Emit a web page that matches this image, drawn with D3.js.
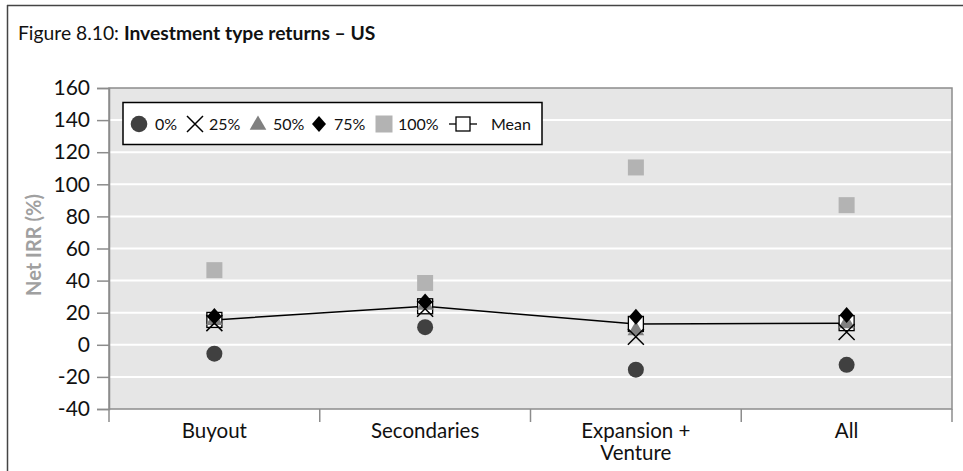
<!DOCTYPE html>
<html>
<head>
<meta charset="utf-8">
<script src="https://cdn.jsdelivr.net/npm/d3@7"></script>
<style>
  html, body { margin: 0; padding: 0; background: #fff; }
  svg { display: block; }
  text { font-family: Lato, "Open Sans", sans-serif; }
</style>
</head>
<body>
<svg id="chart" width="963" height="471"></svg>
<script>
// ---- data ----
const categories = ["Buyout", "Secondaries", "Expansion + Venture", "All"];
const categoryLabels = [["Buyout"], ["Secondaries"], ["Expansion +", "Venture"], ["All"]];
const p0   = [-5.5, 11, -15.5, -12.5];
const p25  = [13.5, 22.5, 5, 8];
const p50  = [16, 25.5, 9.5, 14];
const p75  = [18, 27, 17.5, 18.5];
const p100 = [46.5, 38.5, 110.5, 87];
const meanVals = [15.5, 24, 13, 13.5];
const yTicks = [-40, -20, 0, 20, 40, 60, 80, 100, 120, 140, 160];
const legendLabels = ["0%", "25%", "50%", "75%", "100%", "Mean"];

(function () {
const FONT = "Lato, 'Open Sans', sans-serif";
const svg = d3.select("#chart");
const pLeft = 109, pRight = 952, pTop = 88, pBottom = 409;

const x = d3.scaleBand().domain(categories).range([pLeft, pRight]).padding(0);
const y = d3.scaleLinear().domain([-40, 160]).range([pBottom, pTop]);
const cx = c => x(c) + x.bandwidth() / 2;

// outer frame (top & left)
svg.append("line").attr("x1", 7).attr("x2", 963).attr("y1", 5.5).attr("y2", 5.5)
  .attr("stroke", "#444").attr("stroke-width", 1.5);
svg.append("line").attr("x1", 7.5).attr("x2", 7.5).attr("y1", 5).attr("y2", 471)
  .attr("stroke", "#444").attr("stroke-width", 1.5);

// title
const title = svg.append("text").attr("x", 18).attr("y", 40)
  .attr("font-size", 19.3).attr("fill", "#111");
title.append("tspan").text("Figure 8.10: ");
title.append("tspan").attr("font-weight", "bold").text("Investment type returns \u2013 US");

// plot background
svg.append("rect").attr("x", pLeft).attr("y", pTop)
  .attr("width", pRight - pLeft).attr("height", pBottom - pTop)
  .attr("fill", "#e6e6e6");

// gridlines
svg.append("g").selectAll("line")
  .data(yTicks.filter(t => t > -40 && t < 160))
  .join("line")
  .attr("x1", pLeft).attr("x2", pRight)
  .attr("y1", d => y(d)).attr("y2", d => y(d))
  .attr("stroke", "#fff").attr("stroke-width", 2);

// plot border
svg.append("rect").attr("x", pLeft).attr("y", pTop)
  .attr("width", pRight - pLeft).attr("height", pBottom - pTop)
  .attr("fill", "none").attr("stroke", "#8c8c8c").attr("stroke-width", 1.5);

// y axis
const yAxis = svg.append("g").attr("transform", `translate(${pLeft},0)`)
  .call(d3.axisLeft(y).tickValues(yTicks).tickSize(12).tickPadding(7).tickFormat(d => String(d)));
yAxis.select(".domain").attr("stroke", "#8c8c8c").attr("stroke-width", 1.5);
yAxis.selectAll(".tick line").attr("stroke", "#8c8c8c").attr("stroke-width", 1.5);
yAxis.selectAll(".tick text").attr("font-size", 21).attr("fill", "#111")
  .attr("font-family", FONT);

// x axis ticks at band boundaries
const bounds = categories.map(c => x(c)).concat([pRight]);
svg.append("g").selectAll("line").data(bounds).join("line")
  .attr("x1", d => d).attr("x2", d => d)
  .attr("y1", pBottom).attr("y2", pBottom + 13)
  .attr("stroke", "#8c8c8c").attr("stroke-width", 1.5);

// x labels
svg.append("g").selectAll("text").data(categories).join("text")
  .attr("x", d => cx(d)).attr("y", 438)
  .attr("text-anchor", "middle").attr("font-size", 20.5).attr("fill", "#111")
  .each(function(d, i) {
    const t = d3.select(this);
    categoryLabels[i].forEach((line, j) => {
      t.append("tspan").attr("x", cx(d)).attr("dy", j === 0 ? 0 : 22).text(line);
    });
  });

// y-axis title
svg.append("text")
  .attr("transform", "translate(41,245) rotate(-90)")
  .attr("text-anchor", "middle").attr("font-size", 20).attr("font-weight", "bold")
  .attr("fill", "#a0a0a0").text("Net IRR (%)");

// ---- markers ----
const g = svg.append("g");
const sq = 16;
g.selectAll(".p100").data(categories).join("rect")
  .attr("x", (d) => cx(d) - sq / 2).attr("y", (d, i) => y(p100[i]) - sq / 2)
  .attr("width", sq).attr("height", sq).attr("fill", "#b3b3b3");
g.append("path")
  .datum(categories)
  .attr("d", d3.line().x(d => cx(d)).y((d, i) => y(meanVals[i])))
  .attr("fill", "none").attr("stroke", "#000").attr("stroke-width", 1.5);
g.selectAll(".mean").data(categories).join("rect")
  .attr("x", d => cx(d) - 7.5).attr("y", (d, i) => y(meanVals[i]) - 7.5)
  .attr("width", 15).attr("height", 15)
  .attr("fill", "#fff").attr("stroke", "#000").attr("stroke-width", 1.3);
g.selectAll(".p0").data(categories).join("circle")
  .attr("cx", d => cx(d)).attr("cy", (d, i) => y(p0[i])).attr("r", 8)
  .attr("fill", "#404040");
const tri = d3.symbol().type(d3.symbolTriangle).size(120);
g.selectAll(".p50").data(categories).join("path")
  .attr("d", tri)
  .attr("transform", (d, i) => `translate(${cx(d)},${y(p50[i]) + 1})`)
  .attr("fill", "#808080");
const diamondPath = "M0,-8L7,0L0,8L-7,0Z";
g.selectAll(".p75").data(categories).join("path")
  .attr("d", diamondPath)
  .attr("transform", (d, i) => `translate(${cx(d)},${y(p75[i])})`)
  .attr("fill", "#000");
const xPath = "M-8,-8L8,8M-8,8L8,-8";
g.selectAll(".p25").data(categories).join("path")
  .attr("d", xPath)
  .attr("transform", (d, i) => `translate(${cx(d)},${y(p25[i])})`)
  .attr("fill", "none").attr("stroke", "#000").attr("stroke-width", 1.5);

// ---- legend ----
const lg = svg.append("g");
lg.append("rect").attr("x", 123).attr("y", 102.5).attr("width", 419).attr("height", 42)
  .attr("fill", "#fff").attr("stroke", "#000").attr("stroke-width", 1.5);
const ly = 124;
const itemX = [139, 195, 258, 319, 384, 463];
const textX = [155, 209, 273, 334, 398, 491];
lg.append("circle").attr("cx", itemX[0]).attr("cy", ly).attr("r", 8.3).attr("fill", "#404040");
lg.append("path").attr("d", xPath).attr("transform", `translate(${itemX[1]},${ly})`)
  .attr("stroke", "#000").attr("stroke-width", 1.5).attr("fill", "none");
lg.append("path").attr("d", tri).attr("transform", `translate(${itemX[2]},${ly + 1})`).attr("fill", "#808080");
lg.append("path").attr("d", diamondPath).attr("transform", `translate(${itemX[3]},${ly})`).attr("fill", "#000");
lg.append("rect").attr("x", itemX[4] - 8.5).attr("y", ly - 8.5).attr("width", 17).attr("height", 17).attr("fill", "#b3b3b3");
lg.append("line").attr("x1", itemX[5] - 14).attr("x2", itemX[5] + 14).attr("y1", ly).attr("y2", ly)
  .attr("stroke", "#000").attr("stroke-width", 1.3);
lg.append("rect").attr("x", itemX[5] - 7).attr("y", ly - 7).attr("width", 14).attr("height", 14)
  .attr("fill", "#fff").attr("stroke", "#000").attr("stroke-width", 1.3);
lg.selectAll(".lt").data(legendLabels).join("text")
  .attr("x", (d, i) => textX[i]).attr("y", ly + 6)
  .attr("font-size", 16).attr("fill", "#111").text(d => d);
})();
</script>
</body>
</html>
